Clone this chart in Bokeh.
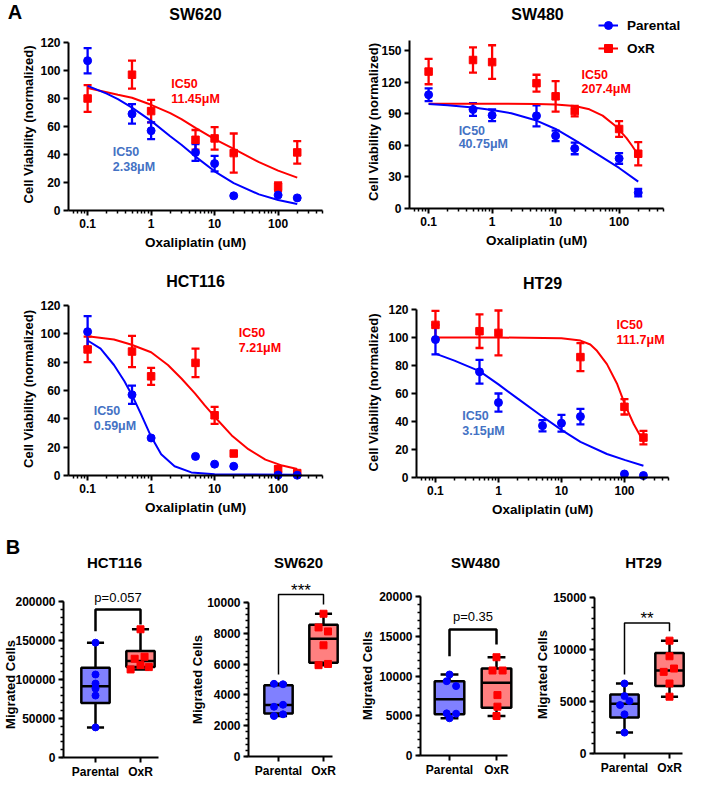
import math
from bokeh.plotting import figure
from bokeh.layouts import column, row
from bokeh.models import (Range1d, FixedTicker, NumeralTickFormatter, Label, Legend,
                          LegendItem, Whisker, TeeHead, ColumnDataSource)
from bokeh.embed import file_html
from bokeh.resources import INLINE

FONT = "Liberation Sans"
BLUE = "#0000FF"
RED = "#FF0000"
IC_BLUE = "#4472C4"
NAN = float("nan")

# ---------------- Panel A : dose response ----------------
doses = [0.1, 0.5, 1, 5, 10, 20, 100, 200]
x_major = [0.1, 1, 10, 100]
x_minor = [0.06, 0.07, 0.08, 0.09, 0.2, 0.3, 0.4, 0.5, 0.6, 0.7, 0.8, 0.9,
           2, 3, 4, 5, 6, 7, 8, 9, 20, 30, 40, 50, 60, 70, 80, 90, 200, 300, 400, 500]
x_lim = (0.05, 500)

sw620_par = [107, 69, 57, 41.5, 33.5, 10.5, 11, 9]
sw620_par_err = [9, 7, 6, 6, 5.5, 0, 0, 0]
sw620_oxr = [80, 97, 71, 50.5, 51.5, 41, 17, 41.5]
sw620_oxr_err = [9.5, 10, 8, 7, 8, 14, 3, 8]
sw620_fit_x = [0.1, 0.2, 0.3, 0.5, 1, 2, 3, 5, 10, 20, 50, 100, 200]
sw620_par_fit = [89, 83.5, 79.5, 73.5, 64, 53, 47, 38.5, 28, 19.5, 11.5, 7.5, 4.7]
sw620_oxr_fit = [87.5, 84.5, 82.7, 80.5, 75.5, 69.5, 65.3, 59, 51, 44, 34.5, 28.5, 23.5]

sw480_par = [108, 94, 88.5, 88, 69, 57, 47.5, 15]
sw480_par_err = [6, 6, 5.5, 10, 5, 5.5, 5, 3.5]
sw480_oxr = [130, 141, 139, 119, 106.5, 92.5, 75.5, 52]
sw480_oxr_err = [12, 12, 16, 8, 14.5, 5, 7.5, 11]
sw480_par_fit_x = [0.1, 0.2, 0.5, 1, 2, 5, 10, 20, 50, 100, 200]
sw480_par_fit = [99.3, 98, 96, 93.5, 90.5, 83.5, 75.5, 65, 50, 38.5, 25.5]
sw480_oxr_fit_x = [0.1, 1, 5, 10, 20, 34, 55, 90, 130, 160, 200]
sw480_oxr_fit = [99.5, 99.5, 99.2, 98.8, 97.3, 94.2, 88.2, 77.8, 67, 59.6, 50.8]

hct116_par = [101.5, 57, 26.5, 13.5, 8, 6.5, 0.3, 0.2]
hct116_par_err = [11, 6.5, 0, 0, 0, 0, 0, 0]
hct116_oxr = [89, 87.5, 70, 79.5, 42.5, 15.5, 4.5, 1.7]
hct116_oxr_err = [9, 11, 6, 10, 6, 0, 2, 0]
hct116_par_fit_x = [0.1, 0.16, 0.26, 0.38, 0.51, 0.69, 1, 1.44, 2.34, 4.3, 10, 200]
hct116_par_fit = [95.3, 89.5, 78, 66.5, 56, 43.5, 27.5, 15, 6.5, 2.2, 0.8, 0.5]
hct116_oxr_fit_x = [0.1, 0.26, 0.48, 1, 1.84, 3, 4.9, 7, 10, 18.6, 34, 63, 116, 200]
hct116_oxr_fit = [98.3, 96, 92.5, 87, 78, 68.5, 58, 49.5, 41.5, 28.3, 18.6, 11.2, 7, 4.6]

ht29_par = [98.5, 75.5, 53.5, 37, 38.8, 43.5, 2.5, 1.4]
ht29_par_err = [10.5, 8.5, 6.5, 4, 6, 5.5, 0, 0]
ht29_oxr = [109, 104.5, 103.3, NAN, NAN, 86, 50.5, 28.5]
ht29_oxr_err = [10, 12, 16, NAN, NAN, 10, 5.5, 4.8]
ht29_par_fit_x = [0.1, 0.2, 0.5, 1, 2, 4.66, 10, 20, 52.7, 103, 200]
ht29_par_fit = [88.5, 83.5, 76, 66.5, 56.5, 44.5, 34, 25.5, 16.8, 12.4, 8.4]
ht29_oxr_fit_x = [0.1, 1, 10, 20, 28.7, 36.6, 52.7, 75.9, 103, 140, 200]
ht29_oxr_fit = [100, 100, 99.5, 97.8, 95, 90.5, 81, 67.2, 51.5, 38.2, 25.7]

ic50_text = {"SW620": ("2.38μM", "11.45μM"), "SW480": ("40.75μM", "207.4μM"),
             "HCT116": ("0.59μM", "7.21μM"), "HT29": ("3.15μM", "111.7μM")}

# ---------------- Panel B : migration ----------------
groups = ["Parental", "OxR"]
hct116_mig_par = [147200, 106400, 94800, 88400, 79400, 38600]
hct116_mig_oxr = [164400, 129200, 126600, 118400, 115900, 112900]
hct116_box_par = [38600, 70000, 91400, 115000, 147200]   # min, q1, median, q3, max
hct116_box_oxr = [112900, 115900, 123600, 136500, 164400]
sw620_mig_par = [4720, 4690, 3360, 3230, 2740, 2630]
sw620_mig_oxr = [9270, 8380, 8120, 7220, 6010, 5930]
sw620_box_par = [2630, 2800, 3340, 4630, 4720]
sw620_box_oxr = [5930, 6080, 7650, 8560, 9270]
sw480_mig_par = [10190, 9350, 8730, 5300, 5260, 4680]
sw480_mig_oxr = [12360, 10690, 10690, 7600, 6140, 4970]
sw480_box_par = [4680, 5180, 7060, 9350, 10190]
sw480_box_oxr = [4970, 6010, 9140, 10940, 12360]
ht29_mig_par = [6730, 5520, 5040, 4660, 3770, 2010]
ht29_mig_oxr = [10850, 9350, 8170, 7850, 6730, 5460]
ht29_box_par = [2010, 3450, 4790, 5680, 6730]
ht29_box_oxr = [5460, 6480, 7980, 9670, 10850]

# horizontal scatter offsets of the dots inside each box
hct116_jit_par = [0, 0, 0, 0, 0, 0]
hct116_jit_oxr = [0, 0.09, -0.13, 0, 0.185, -0.22]
sw620_jit_par = [-0.1, 0.1, 0.1, -0.1, 0.1, -0.1]
sw620_jit_oxr = [0, -0.11, 0.1, 0, 0.1, -0.11]
sw480_jit_par = [0, -0.06, 0.14, -0.06, 0.14, 0]
sw480_jit_oxr = [0, -0.085, 0.13, 0.02, 0.02, 0]
ht29_jit_par = [0, 0, 0.11, -0.1, 0, 0]
ht29_jit_oxr = [0, 0, 0.1, -0.13, 0, 0]

# significance brackets: left foot, top, right foot; label and its height
hct116_bracket = [161900, 189700, 170500]
sw620_bracket = [5320, 10520, 9870]
sw480_bracket = [12490, 15850, 13960]
ht29_bracket = [7600, 12560, 11760]
sig_labels = {"HCT116": ("p=0.057", 204700), "SW620": ("***", 10800),
              "SW480": ("p=0.35", 17520), "HT29": ("**", 12980)}


def style_axes(p):
    for ax in p.axis:
        ax.axis_line_color = "black"
        ax.axis_line_width = 2
        ax.major_tick_line_color = "black"
        ax.major_tick_line_width = 2
        ax.major_tick_in = 0
        ax.major_tick_out = 5
        ax.minor_tick_line_color = "black"
        ax.minor_tick_line_width = 1.5
        ax.minor_tick_in = 0
        ax.minor_tick_out = 3
        ax.major_label_text_font = FONT
        ax.major_label_text_font_size = "12px"
        ax.major_label_text_font_style = "bold"
        ax.major_label_text_color = "black"
        ax.major_label_standoff = 3


def put(p, g, ix, iy, text, size, color="black", style="bold", align="center", angle=0):
    # ix, iy: pixel position inside the figure, measured from its top-left corner
    p.add_layout(Label(x=ix, y=g["H"] - iy, x_units="screen", y_units="screen",
                       text=text, text_font=FONT, text_font_size=f"{size}px",
                       text_font_style=style, text_color=color, text_align=align,
                       text_baseline="middle", angle=angle, angle_units="deg"))


def base_fig(g, x_range, y_range, **kw):
    # the frame fills the whole figure; axes are pinned inside it with fixed_location
    p = figure(width=g["W"], height=g["H"], frame_width=g["W"], frame_height=g["H"],
               min_border=0, min_border_left=0, min_border_right=0, min_border_top=0,
               min_border_bottom=0, title=None,
               x_range=x_range, y_range=y_range, output_backend="svg", toolbar_location=None,
               background_fill_color="white", border_fill_color="white", **kw)
    p.outline_line_color = None
    p.xgrid.visible = False
    p.ygrid.visible = False
    return p


def curve_panel(g, name, par, par_err, oxr, oxr_err, pfx, pfy, ofx, ofy, ymax, ystep,
                ic_par_at, ic_oxr_at, tpos, ypos, legend_at=None, tag=None):
    W, H, PL, PR, PT, PB = g["W"], g["H"], g["FL"], g["FR"], g["YT"], g["YZ"]
    ppd = (PR - PL) / math.log10(x_lim[1] / x_lim[0])
    xr = Range1d(10 ** (math.log10(x_lim[0]) - PL / ppd), 10 ** (math.log10(x_lim[1]) + (W - PR) / ppd))
    ppu = (PB - PT) / ymax
    yr = Range1d(-(H - PB) / ppu, ymax + PT / ppu)
    p = base_fig(g, xr, yr, x_axis_type="log")
    p.xaxis.ticker = FixedTicker(ticks=x_major, minor_ticks=x_minor)
    p.xaxis.formatter = NumeralTickFormatter(format="0.[0]")
    p.xaxis.fixed_location = 0
    p.xaxis.bounds = x_lim
    p.yaxis.fixed_location = x_lim[0]
    p.yaxis.ticker = FixedTicker(ticks=list(range(0, ymax + 1, ystep)))
    p.yaxis.bounds = (0, ymax)
    style_axes(p)
    p.yaxis.minor_tick_line_color = None

    lo = p.line(ofx, ofy, line_color=RED, line_width=2)
    lp = p.line(pfx, pfy, line_color=BLUE, line_width=2)
    for vals, errs, col in ((oxr, oxr_err, RED), (par, par_err, BLUE)):
        keep = [i for i in range(len(doses)) if errs[i] == errs[i] and errs[i] > 0]
        src = ColumnDataSource(dict(x=[doses[i] for i in keep],
                                    lo=[vals[i] - errs[i] for i in keep],
                                    hi=[vals[i] + errs[i] for i in keep]))
        p.add_layout(Whisker(source=src, base="x", lower="lo", upper="hi", dimension="height",
                             line_color=col, line_width=2.3,
                             lower_head=TeeHead(size=8, line_color=col, line_width=2.3),
                             upper_head=TeeHead(size=8, line_color=col, line_width=2.3)))
    so = p.scatter(doses, oxr, marker="square", size=7.5, fill_color=RED, line_color=RED)
    sp = p.scatter(doses, par, marker="circle", size=8, fill_color=BLUE, line_color=BLUE)

    par_txt, oxr_txt = ic50_text[name]
    for (x, y1, y2), txt, col in ((ic_oxr_at, oxr_txt, RED), (ic_par_at, par_txt, IC_BLUE)):
        for yy, tt in ((y1, "IC50"), (y2, txt)):
            p.add_layout(Label(x=x, y=yy, text=tt, text_font=FONT, text_font_size="12.5px",
                               text_font_style="bold", text_color=col, text_align="left",
                               text_baseline="middle"))
    put(p, g, tpos[0], tpos[1], name, 16)
    put(p, g, ypos[0], ypos[1], "Cell Viability (normalized)", 13, angle=90)
    put(p, g, (PL + PR) / 2, PB + 32, "Oxaliplatin (uM)", 13.5)
    if tag:
        put(p, g, tag[0], tag[1], tag[2], 20)
    if legend_at:
        leg = Legend(items=[LegendItem(label="Parental", renderers=[lp, sp]),
                            LegendItem(label="OxR", renderers=[lo, so])],
                     location=legend_at, orientation="vertical", padding=0, spacing=3, margin=0,
                     glyph_width=20, glyph_height=20, label_height=20, label_standoff=9,
                     label_text_font=FONT, label_text_font_size="13.5px",
                     label_text_font_style="bold", label_text_color="black",
                     border_line_color=None, background_fill_alpha=0)
        p.add_layout(leg)
    return p


def box_panel(g, name, pp, pj, op, oj, pb, ob, ymax, ymajor, yminor, br, br_w, tpos, ypos, tag=None):
    W, H, PL, PR, PT, PB = g["W"], g["H"], g["FL"], g["FR"], g["YT"], g["YB"]
    upx = g["OX"] - g["PX"]
    xr = Range1d(1 - g["PX"] / upx, 1 + (W - g["PX"]) / upx)
    xb = (1 - (g["PX"] - PL) / upx, 2 + (PR - g["OX"]) / upx)
    ppu = (PB - PT) / ymax
    yr = Range1d(-(H - PB) / ppu, ymax + PT / ppu)
    p = base_fig(g, xr, yr)
    p.xaxis.fixed_location = 0
    p.xaxis.bounds = xb
    p.yaxis.fixed_location = xb[0]
    p.yaxis.bounds = (0, ymax)
    p.yaxis.ticker = FixedTicker(ticks=list(range(0, ymax + 1, ymajor)),
                                 minor_ticks=list(range(0, ymax + 1, yminor)))
    p.yaxis.formatter = NumeralTickFormatter(format="0")
    p.xaxis.ticker = FixedTicker(ticks=[1, 2])
    p.xaxis.major_label_overrides = {i + 1: gname for i, gname in enumerate(groups)}
    style_axes(p)
    p.xaxis.minor_tick_line_color = None
    p.xaxis.major_label_standoff = 2

    xs = [1, 2]
    boxes = [pb, ob]
    cap = 0.19
    half = 0.315
    p.segment(x0=xs + xs, y0=[b[0] for b in boxes] + [b[3] for b in boxes],
              x1=xs + xs, y1=[b[1] for b in boxes] + [b[4] for b in boxes],
              line_color="black", line_width=2.5)
    p.segment(x0=[x - cap for x in xs] * 2, x1=[x + cap for x in xs] * 2,
              y0=[b[0] for b in boxes] + [b[4] for b in boxes],
              y1=[b[0] for b in boxes] + [b[4] for b in boxes],
              line_color="black", line_width=2.5)
    p.vbar(x=xs, bottom=[b[1] for b in boxes], top=[b[3] for b in boxes], width=2 * half,
           fill_color=["#8080FF", "#FF8080"], line_color="black", line_width=2.5)
    p.segment(x0=[x - half for x in xs], x1=[x + half for x in xs],
              y0=[b[2] for b in boxes], y1=[b[2] for b in boxes],
              line_color="black", line_width=2.5)
    p.scatter([1 + j for j in pj], pp, marker="circle", size=7, fill_color=BLUE, line_color=BLUE)
    p.scatter([2 + j for j in oj], op, marker="square", size=7, fill_color=RED, line_color=RED)
    p.line([1, 1, 2, 2], [br[0], br[1], br[1], br[2]], line_color="black", line_width=br_w)
    stxt, sy = sig_labels[name]
    star = stxt.startswith("*")
    p.add_layout(Label(x=1.5, y=sy, text=stxt, text_font=FONT,
                       text_font_size="17px" if star else "13px", text_font_style="normal",
                       text_color="black", text_align="center", text_baseline="middle"))
    put(p, g, tpos[0], tpos[1], name, 15)
    put(p, g, ypos[0], ypos[1], "Migrated Cells", 13, angle=90)
    if tag:
        put(p, g, tag[0], tag[1], tag[2], 20)
    return p


# row 1 (height 258)
f1 = curve_panel(dict(W=345, H=258, FL=68, FR=322, YT=42, YZ=210), "SW620",
                 sw620_par, sw620_par_err, sw620_oxr, sw620_oxr_err,
                 sw620_fit_x, sw620_par_fit, sw620_fit_x, sw620_oxr_fit, 120, 20,
                 (0.249, 42.1, 31.4), (2.07, 90.7, 79.3), (195, 14), (27.5, 124),
                 tag=(14.5, 11, "A"))
f2 = curve_panel(dict(W=340, H=258, FL=64, FR=318, YT=39.5, YZ=208), "SW480",
                 sw480_par, sw480_par_err, sw480_oxr, sw480_oxr_err,
                 sw480_par_fit_x, sw480_par_fit, sw480_oxr_fit_x, sw480_oxr_fit, 160, 30,
                 (0.297, 74, 60.8), (25.6, 126.3, 113), (192, 14), (28, 121.5),
                 legend_at=(253, 200))
# row 2 (height 270)
f3 = curve_panel(dict(W=345, H=270, FL=68, FR=322, YT=47, YZ=217), "HCT116",
                 hct116_par, hct116_par_err, hct116_oxr, hct116_oxr_err,
                 hct116_par_fit_x, hct116_par_fit, hct116_oxr_fit_x, hct116_oxr_fit, 120, 20,
                 (0.125, 45.3, 34.7), (24.0, 100.4, 89.8), (195, 23), (27.5, 130.5))
f4 = curve_panel(dict(W=340, H=270, FL=71, FR=323, YT=51, YZ=219), "HT29",
                 ht29_par, ht29_par_err, ht29_oxr, ht29_oxr_err,
                 ht29_par_fit_x, ht29_par_fit, ht29_oxr_fit_x, ht29_oxr_fit, 120, 20,
                 (0.267, 43.6, 32.9), (75, 108.6, 97.9), (197, 25), (27.5, 134))
# row 3 (height 250)
b1 = box_panel(dict(W=175, H=250, FL=63, FR=158, YT=73, YB=229, PX=95, OX=140), "HCT116",
               hct116_mig_par, hct116_jit_par, hct116_mig_oxr, hct116_jit_oxr,
               hct116_box_par, hct116_box_oxr, 200000, 50000, 10000, hct116_bracket, 2.5,
               (114, 34), (9.5, 156), tag=(12.5, 18, "B"))
b2 = box_panel(dict(W=175, H=250, FL=73, FR=157, YT=74, YB=228, PX=103, OX=148), "SW620",
               sw620_mig_par, sw620_jit_par, sw620_mig_oxr, sw620_jit_oxr,
               sw620_box_par, sw620_box_oxr, 10000, 2000, 400, sw620_bracket, 1.5,
               (123, 34), (22, 151))
b3 = box_panel(dict(W=175, H=250, FL=70, FR=157, YT=68, YB=227, PX=99, OX=146), "SW480",
               sw480_mig_par, sw480_jit_par, sw480_mig_oxr, sw480_jit_oxr,
               sw480_box_par, sw480_box_oxr, 20000, 5000, 1000, sw480_bracket, 2.5,
               (125, 34), (17, 147))
b4 = box_panel(dict(W=160, H=250, FL=69, FR=157, YT=69, YB=225, PX=99, OX=144), "HT29",
               ht29_mig_par, ht29_jit_par, ht29_mig_oxr, ht29_jit_oxr,
               ht29_box_par, ht29_box_oxr, 15000, 5000, 1000, ht29_bracket, 1.5,
               (118, 34), (17, 146))

layout = column(row(f1, f2), row(f3, f4), row(b1, b2, b3, b4))
open("out.html", "w").write(file_html(layout, INLINE))
